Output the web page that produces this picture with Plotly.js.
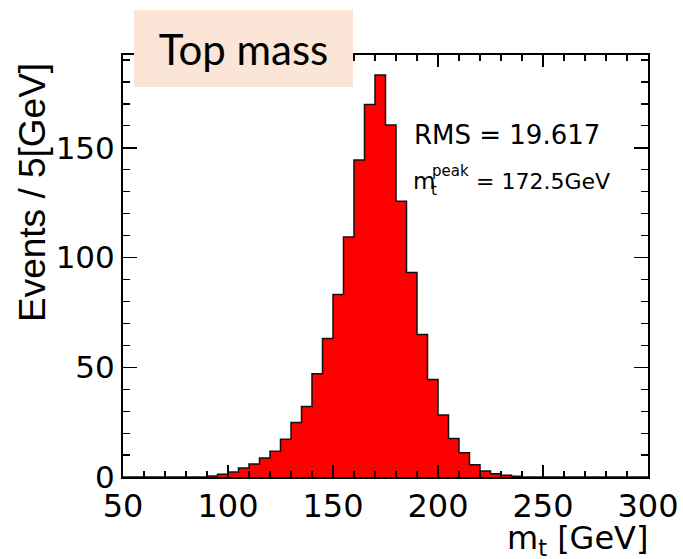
<!DOCTYPE html>
<html>
<head>
<meta charset="utf-8">
<script src="https://cdn.plot.ly/plotly-3.0.1.min.js"></script>
<style>html,body{margin:0;padding:0;background:#fff;}#chart{width:683px;height:559px;}</style>
</head>
<body>
<div id="chart"></div>
<script>
// Histogram of reconstructed top mass, bins of 5 GeV from 50 to 300 GeV
const binStart = 50;
const binWidth = 5;
const counts = [
  0, 0, 0, 0, 0, 0, 0,          // 50-85
  0, 0.4, 1.2,                  // 85-100
  2.3, 4.1, 5.9, 8.7,           // 100-120
  11.7, 17.2, 24.8, 32.1,       // 120-140
  47.1, 63.1, 83.2, 109.4,      // 140-160
  144.4, 169.8, 183.2, 160.4,   // 160-180
  125.7, 93.2, 64.9, 44.4,      // 180-200
  28.3, 17.5, 11.1, 5.6,        // 200-220
  2.7, 1.5, 0.8, 0.3,           // 220-240
  0, 0, 0, 0, 0, 0, 0, 0, 0, 0, 0, 0  // 240-300
];
const xTickVals = [50, 100, 150, 200, 250, 300];
const yTickVals = [0, 50, 100, 150];
const rmsText = "RMS = 19.617";
const peakText = "= 172.5GeV";

// step outline built from bin edges
const edges = counts.map((c, i) => binStart + i * binWidth);
edges.push(binStart + counts.length * binWidth);
const stepY = counts.concat([counts[counts.length - 1]]);

const trace = {
  type: 'scatter', mode: 'lines',
  x: edges, y: stepY,
  line: {shape: 'hv', color: '#111', width: 1.5},
  fill: 'tozeroy', fillcolor: '#ff0000',
  hoverinfo: 'skip', showlegend: false
};

// pixel -> paper helpers for layout text placement
const L = 123, R = 35, T = 55, B = 82, W = 683, H = 559;
const pw = W - L - R, ph = H - T - B;
const px = v => (v - L) / pw;
const py = v => (H - B - v) / ph;

const rootFont = 'DejaVu Sans';

const layout = {
  width: W, height: H,
  margin: {l: L, r: R, t: T, b: B, pad: 0},
  paper_bgcolor: '#fff', plot_bgcolor: '#fff',
  showlegend: false,
  xaxis: {
    range: [50, 300], tickvals: xTickVals, ticktext: xTickVals.map(String),
    ticks: 'inside', ticklen: 12, tickwidth: 1.5, tickcolor: '#000',
    minor: {dtick: 10, tick0: 50, ticks: 'inside', ticklen: 6, tickwidth: 1.2, tickcolor: '#000'},
    showline: true, linecolor: '#000', linewidth: 2, mirror: 'allticks',
    showgrid: false, zeroline: false,
    tickfont: {family: rootFont, size: 32, color: '#000'}
  },
  yaxis: {
    range: [0, 192.3], tickvals: yTickVals, ticktext: yTickVals.map(String),
    ticks: 'inside', ticklen: 14, tickwidth: 1.5, tickcolor: '#000',
    minor: {dtick: 10, tick0: 0, ticks: 'inside', ticklen: 7, tickwidth: 1.2, tickcolor: '#000'},
    showline: true, linecolor: '#000', linewidth: 2, mirror: 'allticks',
    showgrid: false, zeroline: false,
    tickfont: {family: rootFont, size: 31, color: '#000'}
  },
  annotations: [
    {xref: 'paper', yref: 'paper', x: px(243.5), y: py(48.5), xanchor: 'center', yanchor: 'middle',
     text: 'Top mass', showarrow: false, width: 219, height: 77, bgcolor: '#fbe5d6',
     borderpad: 0, borderwidth: 0, align: 'center', valign: 'middle',
     font: {family: 'Lato', size: 42, color: '#000'}},
    {xref: 'paper', yref: 'paper', x: px(32), y: py(193), xanchor: 'center', yanchor: 'middle',
     text: 'Events / 5[GeV]', textangle: -90, showarrow: false,
     font: {family: 'Liberation Sans', size: 37, color: '#000'}},
    {xref: 'paper', yref: 'paper', x: px(650), y: py(540), xanchor: 'right', yanchor: 'middle',
     text: 'm<sub>t</sub> [GeV]', showarrow: false,
     font: {family: rootFont, size: 32, color: '#000'}},
    {xref: 'paper', yref: 'paper', x: px(412), y: py(135), xanchor: 'left', yanchor: 'middle',
     text: rmsText, showarrow: false,
     font: {family: rootFont, size: 26, color: '#000'}},
    {xref: 'paper', yref: 'paper', x: px(411), y: py(181), xanchor: 'left', yanchor: 'middle',
     text: 'm', showarrow: false,
     font: {family: rootFont, size: 23, color: '#000'}},
    {xref: 'paper', yref: 'paper', x: px(430), y: py(171), xanchor: 'left', yanchor: 'middle',
     text: 'peak', showarrow: false,
     font: {family: rootFont, size: 15, color: '#000'}},
    {xref: 'paper', yref: 'paper', x: px(429), y: py(190), xanchor: 'left', yanchor: 'middle',
     text: 't', showarrow: false,
     font: {family: rootFont, size: 15, color: '#000'}},
    {xref: 'paper', yref: 'paper', x: px(474), y: py(181), xanchor: 'left', yanchor: 'middle',
     text: peakText, showarrow: false,
     font: {family: rootFont, size: 22, color: '#000'}}
  ]
};

Plotly.newPlot('chart', [trace], layout, {staticPlot: true, displayModeBar: false});
</script>
</body>
</html>
